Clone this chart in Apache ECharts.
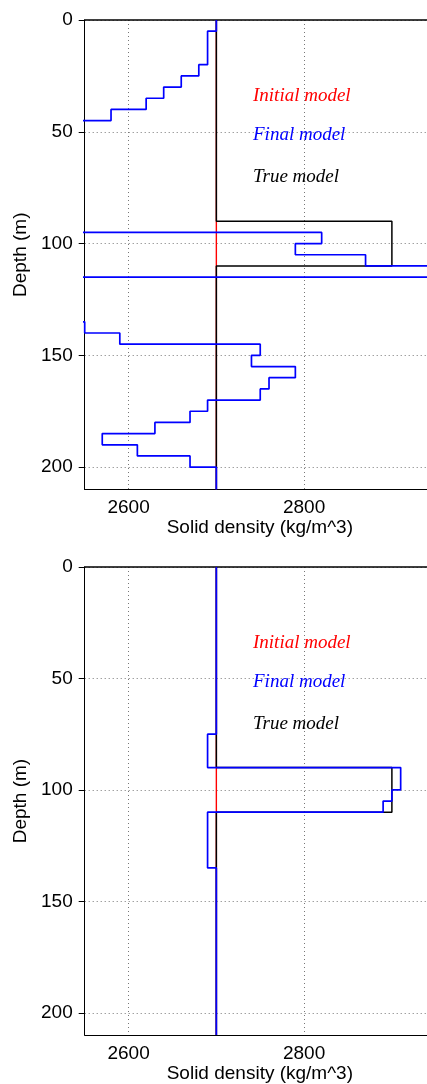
<!DOCTYPE html>
<html>
<head>
<meta charset="utf-8">
<script src="https://cdn.jsdelivr.net/npm/echarts@6/dist/echarts.min.js"></script>
<style>
html,body{margin:0;padding:0;background:#fff;}
#chart{width:427px;height:1084px;}
</style>
</head>
<body>
<div id="chart"></div>
<script>
// ---- Data ----
const maxDepth = 210;
const xMin = 2550, xMax = 2940;
const xTicks = [2600, 2800];
const yTicks = [0, 50, 100, 150, 200];
const seriesNames = ['Initial model', 'Final model', 'True model'];

const initialTops = [0];
const initialDensity = [2700];

const trueTops = [0, 90, 110];
const trueDensity = [2700, 2900, 2700];

// Panel 1 final model (values outside the axis range run off the plot)
const final1Tops = [0, 5, 20, 25, 30, 35, 40, 45, 95, 100, 105, 110, 115, 135, 140, 145, 150, 155, 160, 165, 170, 175, 180, 185, 190, 195, 200];
const final1Density = [2700, 2690, 2680, 2660, 2640, 2620, 2580, 2450, 2820, 2790, 2870, 3000, 2450, 2550, 2590, 2750, 2740, 2790, 2760, 2750, 2690, 2670, 2630, 2570, 2610, 2670, 2700];

// Panel 2 final model
const final2Tops = [0, 75, 90, 100, 105, 110, 135];
const final2Density = [2700, 2690, 2910, 2900, 2890, 2690, 2700];

// ---- helpers ----
function layers(tops, vals) {
  const pts = [];
  for (let i = 0; i < tops.length; i++) {
    const bot = i + 1 < tops.length ? tops[i + 1] : maxDepth;
    pts.push([vals[i], tops[i]]);
    pts.push([vals[i], bot]);
  }
  return pts;
}

const gridTops = [20, 567];
const gridH = 469.5;
const plotLeft = 84.7;
const FONT = '"Liberation Sans", Arial, sans-serif';

const grids = gridTops.map(t => ({
  left: plotLeft, top: t, right: 0, height: gridH, show: false
}));

const xAxes = [];
gridTops.forEach((t, i) => {
  xAxes.push({
    type: 'value', gridIndex: i, min: xMin, max: xMax, position: 'bottom',
    name: 'Solid density (kg/m^3)', nameLocation: 'middle', nameGap: 28,
    nameTextStyle: { color: '#000', fontSize: 19, fontFamily: FONT, padding: [0, 0, 0, 8] },
    axisLine: { show: true, onZero: false, lineStyle: { color: '#000', width: 1 } },
    axisTick: { show: false, customValues: xTicks },
    axisLabel: { customValues: xTicks, color: '#000', fontSize: 19, fontFamily: FONT, margin: 9,
      formatter: v => String(v) },
    splitLine: { show: true, lineStyle: { color: '#777', type: [1, 3], width: 1 } }
  });
});
gridTops.forEach((t, i) => {
  xAxes.push({
    type: 'value', gridIndex: i, min: xMin, max: xMax, position: 'top',
    axisLine: { show: true, onZero: false, lineStyle: { color: '#000', width: 1.5 } },
    axisTick: { show: false }, axisLabel: { show: false }, splitLine: { show: false }
  });
});

const yAxes = gridTops.map((t, i) => ({
  type: 'value', gridIndex: i, min: 0, max: maxDepth, inverse: true,
  name: 'Depth (m)', nameLocation: 'middle', nameGap: 52, nameRotate: 90,
  nameTextStyle: { color: '#000', fontSize: 19, fontFamily: FONT },
  axisLine: { show: true, onZero: false, lineStyle: { color: '#000', width: 1 } },
  axisTick: { show: true, inside: false, length: 6, customValues: yTicks, lineStyle: { color: '#000' } },
  axisLabel: { customValues: yTicks, color: '#000', fontSize: 19, fontFamily: FONT, margin: 12,
    formatter: v => String(v) },
  splitLine: { show: true, lineStyle: { color: '#777', type: [1, 3], width: 1 } }
}));

const colors = { 'Initial model': '#ff0000', 'Final model': '#0000ff', 'True model': '#000000' };
const series = [];
[[final1Tops, final1Density], [final2Tops, final2Density]].forEach((fm, i) => {
  series.push({ name: 'Initial model', type: 'line', xAxisIndex: i, yAxisIndex: i, data: layers(initialTops, initialDensity),
    symbol: 'none', lineStyle: { color: colors['Initial model'], width: 1.4 }, z: 2, clip: true });
  series.push({ name: 'True model', type: 'line', xAxisIndex: i, yAxisIndex: i, data: layers(trueTops, trueDensity),
    symbol: 'none', lineStyle: { color: colors['True model'], width: 1.5 }, z: 3, clip: true });
  series.push({ name: 'Final model', type: 'line', xAxisIndex: i, yAxisIndex: i, data: layers(fm[0], fm[1]),
    symbol: 'none', lineStyle: { color: colors['Final model'], width: 1.7 }, z: 4, clip: true });
});

const textOffsets = [76, 115, 156.5];
const graphic = [];
gridTops.forEach(t => {
  seriesNames.forEach((n, k) => {
    graphic.push({ type: 'text', x: 253, y: t + textOffsets[k], z: 10,
      style: { text: n, fill: colors[n], font: 'italic 19px "Liberation Serif", "Times New Roman", serif', verticalAlign: 'middle', align: 'left' } });
  });
});

const chart = echarts.init(document.getElementById('chart'), null, { renderer: 'canvas' });
chart.setOption({
  animation: false,
  backgroundColor: '#fff',
  grid: grids, xAxis: xAxes, yAxis: yAxes, series: series, graphic: graphic
});
</script>
</body>
</html>
